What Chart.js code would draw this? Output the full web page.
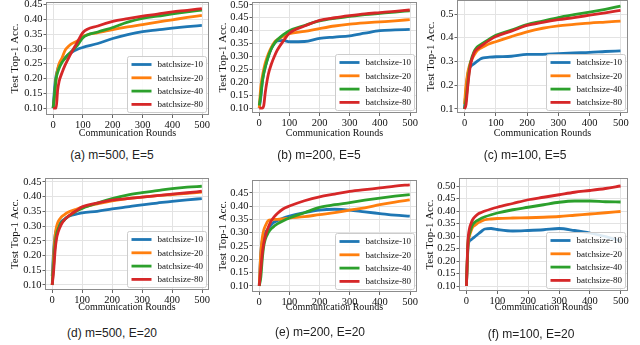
<!DOCTYPE html>
<html>
<head>
<meta charset="utf-8">
<script src="https://cdn.jsdelivr.net/npm/chart.js@4.4.1/dist/chart.umd.min.js"></script>
<style>
  html, body { margin: 0; padding: 0; background: #fff; }
  body { width: 640px; height: 345px; overflow: hidden; position: relative; }
  canvas { position: absolute; }
  .caption {
    position: absolute;
    font-family: 'Liberation Sans', Arial, sans-serif;
    font-size: 12px;
    color: #222;
    white-space: nowrap;
    transform: translate(-50%, -50%);
  }
</style>
</head>
<body>
<script>
const rounds = [0, 5, 10, 15, 20, 30, 40, 50, 60, 80, 100, 150, 200, 250, 300, 350, 400, 450, 499];
const seriesLabels = ['batchsize-10', 'batchsize-20', 'batchsize-40', 'batchsize-80'];
const seriesColors = ['#1f77b4', '#ff7f0e', '#2ca02c', '#d62728'];
const captions = ['(a) m=500, E=5', '(b) m=200, E=5', '(c) m=100, E=5',
                  '(d) m=500, E=20', '(e) m=200, E=20', '(f) m=100, E=20'];

// (a) m=500, E=5
const accA10 = [0.10, 0.17, 0.21, 0.23, 0.245, 0.26, 0.27, 0.28, 0.287, 0.298, 0.305, 0.318, 0.335, 0.348, 0.358, 0.364, 0.37, 0.375, 0.379];
const accA20 = [0.10, 0.14, 0.20, 0.23, 0.25, 0.27, 0.295, 0.307, 0.316, 0.326, 0.342, 0.355, 0.365, 0.374, 0.382, 0.39, 0.398, 0.406, 0.413];
const accA40 = [0.10, 0.15, 0.20, 0.22, 0.235, 0.255, 0.268, 0.28, 0.29, 0.31, 0.338, 0.357, 0.372, 0.39, 0.403, 0.41, 0.418, 0.425, 0.431];
const accA80 = [0.10, 0.10, 0.10, 0.16, 0.19, 0.22, 0.245, 0.265, 0.285, 0.32, 0.355, 0.377, 0.393, 0.402, 0.41, 0.417, 0.425, 0.43, 0.436];

// (b) m=200, E=5
const accB10 = [0.10, 0.14, 0.20, 0.235, 0.26, 0.30, 0.33, 0.35, 0.36, 0.362, 0.357, 0.358, 0.37, 0.375, 0.38, 0.39, 0.4, 0.403, 0.405];
const accB20 = [0.10, 0.18, 0.22, 0.25, 0.275, 0.31, 0.335, 0.355, 0.365, 0.378, 0.388, 0.397, 0.408, 0.418, 0.425, 0.43, 0.434, 0.438, 0.443];
const accB40 = [0.11, 0.15, 0.20, 0.235, 0.26, 0.30, 0.33, 0.35, 0.365, 0.385, 0.40, 0.42, 0.438, 0.448, 0.455, 0.462, 0.467, 0.472, 0.477];
const accB80 = [0.10, 0.10, 0.10, 0.11, 0.16, 0.23, 0.27, 0.30, 0.325, 0.36, 0.39, 0.418, 0.44, 0.45, 0.458, 0.465, 0.47, 0.475, 0.48];

// (c) m=100, E=5
const accC10 = [0.10, 0.18, 0.24, 0.27, 0.28, 0.29, 0.30, 0.31, 0.315, 0.318, 0.32, 0.322, 0.33, 0.33, 0.333, 0.336, 0.338, 0.342, 0.345];
const accC20 = [0.12, 0.20, 0.25, 0.28, 0.30, 0.325, 0.345, 0.355, 0.362, 0.375, 0.383, 0.405, 0.425, 0.44, 0.45, 0.456, 0.462, 0.466, 0.47];
const accC40 = [0.10, 0.14, 0.20, 0.26, 0.30, 0.34, 0.36, 0.37, 0.378, 0.395, 0.41, 0.432, 0.455, 0.47, 0.485, 0.497, 0.508, 0.52, 0.533];
const accC80 = [0.10, 0.12, 0.19, 0.25, 0.29, 0.335, 0.352, 0.362, 0.372, 0.39, 0.405, 0.428, 0.452, 0.465, 0.476, 0.485, 0.495, 0.505, 0.515];

// (d) m=500, E=20
const accD10 = [0.13, 0.22, 0.27, 0.29, 0.30, 0.315, 0.323, 0.33, 0.335, 0.34, 0.345, 0.35, 0.358, 0.365, 0.372, 0.378, 0.384, 0.389, 0.393];
const accD20 = [0.10, 0.20, 0.27, 0.30, 0.315, 0.33, 0.338, 0.345, 0.35, 0.357, 0.363, 0.375, 0.385, 0.393, 0.398, 0.403, 0.407, 0.411, 0.415];
const accD40 = [0.10, 0.17, 0.24, 0.275, 0.29, 0.31, 0.32, 0.33, 0.337, 0.35, 0.36, 0.378, 0.393, 0.405, 0.413, 0.42, 0.427, 0.432, 0.435];
const accD80 = [0.10, 0.15, 0.22, 0.26, 0.28, 0.305, 0.32, 0.33, 0.338, 0.352, 0.365, 0.378, 0.388, 0.393, 0.398, 0.403, 0.408, 0.413, 0.418];

// (e) m=200, E=20
const accE10 = [0.10, 0.22, 0.27, 0.29, 0.30, 0.315, 0.33, 0.34, 0.345, 0.355, 0.362, 0.375, 0.385, 0.388, 0.385, 0.378, 0.372, 0.366, 0.362];
const accE20 = [0.10, 0.22, 0.28, 0.31, 0.325, 0.345, 0.348, 0.35, 0.35, 0.352, 0.355, 0.36, 0.368, 0.375, 0.385, 0.393, 0.405, 0.415, 0.423];
const accE40 = [0.10, 0.13, 0.20, 0.25, 0.275, 0.30, 0.315, 0.325, 0.333, 0.345, 0.355, 0.375, 0.395, 0.405, 0.413, 0.422, 0.43, 0.437, 0.443];
const accE80 = [0.10, 0.16, 0.22, 0.26, 0.285, 0.32, 0.345, 0.36, 0.372, 0.39, 0.40, 0.42, 0.435, 0.445, 0.455, 0.462, 0.468, 0.475, 0.48];

// (f) m=100, E=20
const accF10 = [0.10, 0.25, 0.28, 0.285, 0.29, 0.30, 0.31, 0.32, 0.328, 0.33, 0.326, 0.32, 0.322, 0.325, 0.33, 0.322, 0.312, 0.298, 0.28];
const accF20 = [0.10, 0.26, 0.30, 0.32, 0.335, 0.345, 0.355, 0.36, 0.365, 0.368, 0.37, 0.372, 0.373, 0.375, 0.378, 0.383, 0.388, 0.393, 0.398];
const accF40 = [0.10, 0.27, 0.31, 0.33, 0.345, 0.358, 0.365, 0.372, 0.377, 0.385, 0.392, 0.405, 0.415, 0.425, 0.435, 0.44, 0.44, 0.437, 0.436];
const accF80 = [0.10, 0.28, 0.33, 0.35, 0.365, 0.38, 0.39, 0.395, 0.40, 0.408, 0.415, 0.43, 0.445, 0.455, 0.465, 0.475, 0.482, 0.49, 0.50];

const panelSeries = [
  [accA10, accA20, accA40, accA80],
  [accB10, accB20, accB40, accB80],
  [accC10, accC20, accC40, accC80],
  [accD10, accD20, accD40, accD80],
  [accE10, accE20, accE40, accE80],
  [accF10, accF20, accF40, accF80]
];

// axis ranges + tick steps per panel
const yRanges = [[0.077, 0.458], [0.081, 0.511], [0.083, 0.559], [0.083, 0.463], [0.077, 0.498], [0.080, 0.532]];
const yStep = [0.05, 0.05, 0.1, 0.05, 0.05, 0.05];
const yDecimals = [2, 2, 1, 2, 2, 2];
const xRange = [-24, 523];

// where each panel sits on the page: plot box [l, t, r, b], y-title x, x-title y, caption centre
const panelLayout = [
  { plot: [46, 2, 209, 115],   yTitleX: 16,  xTitleY: 133, cap: [112, 155] },
  { plot: [252, 2, 417, 113],  yTitleX: 224, xTitleY: 133, cap: [319, 155] },
  { plot: [457, 0, 628, 113],  yTitleX: 432, xTitleY: 133, cap: [525, 155] },
  { plot: [45, 178, 209, 290], yTitleX: 16,  xTitleY: 307, cap: [112, 333] },
  { plot: [252, 180, 417, 292], yTitleX: 224, xTitleY: 307, cap: [320, 332] },
  { plot: [459, 178, 628, 291], yTitleX: 431, xTitleY: 307, cap: [531, 334] }
];

const SERIF = "'Liberation Serif', 'Times New Roman', serif";

const framePlugin = {
  id: 'frame',
  afterDatasetsDraw(chart) {
    const { ctx, chartArea: a } = chart;
    ctx.save();
    ctx.strokeStyle = '#8c8c8c';
    ctx.lineWidth = 1;
    const l = Math.round(a.left) + 0.5, t = Math.round(a.top) + 0.5;
    const r = Math.round(a.right) - 0.5, b = Math.round(a.bottom) - 0.5;
    ctx.strokeRect(l, t, r - l, b - t);
    ctx.restore();
  }
};

// legend drawn inside the plot, lower right, like matplotlib's loc='lower right'
const insideLegend = {
  id: 'insideLegend',
  afterDraw(chart) {
    const { ctx, chartArea: a } = chart;
    const sets = chart.data.datasets;
    ctx.save();
    ctx.font = '9px ' + SERIF;
    const textW = Math.max(...sets.map(d => ctx.measureText(d.label).width));
    const rowH = 13.3;
    const w = Math.round(4 + 20 + 6 + textW + 4);
    const h = Math.round(rowH * sets.length + 3);
    const x = Math.round(a.right - 3 - w) + 0.5;
    const y = Math.round(a.bottom - 3 - h) + 0.5;
    const rad = 2;

    ctx.beginPath();
    ctx.moveTo(x + rad, y);
    ctx.lineTo(x + w - rad, y);
    ctx.quadraticCurveTo(x + w, y, x + w, y + rad);
    ctx.lineTo(x + w, y + h - rad);
    ctx.quadraticCurveTo(x + w, y + h, x + w - rad, y + h);
    ctx.lineTo(x + rad, y + h);
    ctx.quadraticCurveTo(x, y + h, x, y + h - rad);
    ctx.lineTo(x, y + rad);
    ctx.quadraticCurveTo(x, y, x + rad, y);
    ctx.closePath();
    ctx.fillStyle = 'rgba(255,255,255,0.85)';
    ctx.fill();
    ctx.strokeStyle = '#cccccc';
    ctx.lineWidth = 1;
    ctx.stroke();

    ctx.textBaseline = 'middle';
    ctx.textAlign = 'left';
    sets.forEach((d, i) => {
      const cy = y + 8 + i * rowH;
      ctx.strokeStyle = d.borderColor;
      ctx.lineWidth = 2.8;
      ctx.beginPath();
      ctx.moveTo(x + 4, cy);
      ctx.lineTo(x + 24, cy);
      ctx.stroke();
      ctx.fillStyle = '#111';
      ctx.fillText(d.label, x + 30, cy + 0.5);
    });
    ctx.restore();
  }
};

function makePanel(idx) {
  const lay = panelLayout[idx];
  const [pl, pt, pr, pb] = lay.plot;
  const padTop = 10, padRight = 10;
  const cLeft = Math.round(lay.yTitleX - 7);
  const cTop = pt - padTop;
  const cRight = pr + padRight;
  const cBottom = Math.round(lay.xTitleY + 6);
  const yWidth = pl - cLeft;
  const xHeight = cBottom - pb;

  const canvas = document.createElement('canvas');
  canvas.width = cRight - cLeft;
  canvas.height = cBottom - cTop;
  canvas.style.left = cLeft + 'px';
  canvas.style.top = cTop + 'px';
  canvas.style.width = canvas.width + 'px';
  canvas.style.height = canvas.height + 'px';
  document.body.appendChild(canvas);

  const cap = document.createElement('div');
  cap.className = 'caption';
  cap.style.left = lay.cap[0] + 'px';
  cap.style.top = lay.cap[1] + 'px';
  cap.textContent = captions[idx];
  document.body.appendChild(cap);

  const datasets = panelSeries[idx].map((vals, i) => ({
    label: seriesLabels[i],
    data: rounds.map((r, k) => ({ x: r, y: vals[k] })),
    borderColor: seriesColors[i],
    backgroundColor: seriesColors[i],
    borderWidth: 2.8,
    pointRadius: 0,
    cubicInterpolationMode: 'monotone',
    borderJoinStyle: 'round',
    order: 4 - i
  }));

  const dec = yDecimals[idx];

  new Chart(canvas.getContext('2d'), {
    type: 'line',
    data: { datasets },
    options: {
      responsive: false,
      animation: false,
      events: [],
      layout: { padding: { left: 0, top: padTop, right: padRight, bottom: 0 } },
      plugins: { legend: { display: false }, tooltip: { enabled: false } },
      scales: {
        x: {
          type: 'linear',
          min: xRange[0],
          max: xRange[1],
          ticks: {
            stepSize: 100,
            includeBounds: false,
            autoSkip: false,
            maxRotation: 0,
            padding: 1,
            color: '#111',
            font: { family: SERIF, size: 10.5 }
          },
          grid: { color: '#e3e3e3', tickColor: '#666', tickLength: 3 },
          border: { display: false },
          title: {
            display: true,
            text: 'Communication Rounds',
            color: '#111',
            padding: 0,
            font: { family: SERIF, size: 10 }
          },
          afterFit(scale) { scale.height = xHeight; }
        },
        y: {
          type: 'linear',
          min: yRanges[idx][0],
          max: yRanges[idx][1],
          ticks: {
            stepSize: yStep[idx],
            includeBounds: false,
            autoSkip: false,
            padding: 1,
            color: '#111',
            font: { family: SERIF, size: 10.5 },
            callback: v => Number(v).toFixed(dec)
          },
          grid: { color: '#e3e3e3', tickColor: '#666', tickLength: 2.5 },
          border: { display: false },
          title: {
            display: true,
            text: 'Test Top-1 Acc.',
            color: '#111',
            padding: 0,
            font: { family: SERIF, size: 11 }
          },
          afterFit(scale) { scale.width = yWidth; }
        }
      }
    },
    plugins: [framePlugin, insideLegend]
  });
}

for (let i = 0; i < panelLayout.length; i++) makePanel(i);
</script>
</body>
</html>
